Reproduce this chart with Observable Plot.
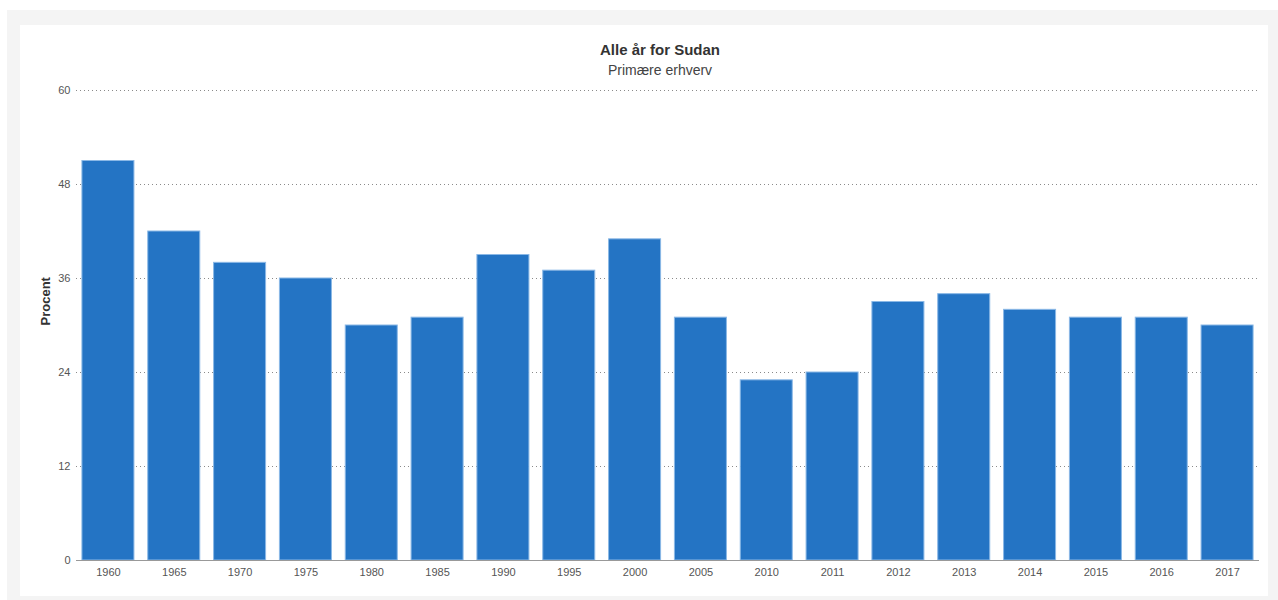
<!DOCTYPE html>
<html>
<head>
<meta charset="utf-8">
<script src="https://cdn.jsdelivr.net/npm/d3@7"></script>
<script src="https://cdn.jsdelivr.net/npm/@observablehq/plot@0.6"></script>
<style>
  html, body { margin: 0; padding: 0; background: #fff; width: 1278px; height: 600px; overflow: hidden; font-family: "Liberation Sans", Arial, Helvetica, sans-serif; }
  #outer { position: absolute; left: 7px; top: 10px; width: 1271px; height: 590px; background: #f4f4f4; }
  #card { position: absolute; left: 20px; top: 25px; width: 1248px; height: 571px; background: #fff; }
  #title { position: absolute; left: 0; width: 1320px; top: 41px; text-align: center; font-weight: bold; font-size: 15px; color: #333; }
  #subtitle { position: absolute; left: 0; width: 1320px; top: 62px; text-align: center; font-size: 14px; color: #444; }
  #chart { position: absolute; left: 20px; top: 25px; }
</style>
</head>
<body>
<div id="outer"></div>
<div id="card"></div>
<div id="chart"></div>
<div id="title">Alle år for Sudan</div>
<div id="subtitle">Primære erhverv</div>
<script>
const years = ["1960","1965","1970","1975","1980","1985","1990","1995","2000","2005","2010","2011","2012","2013","2014","2015","2016","2017"];
const values = [51,42,38,36,30,31,39,37,41,31,23,24,33,34,32,31,31,30];
const yTicks = [0,12,24,36,48,60];
const data = years.map((y, i) => ({year: y, value: values[i]}));

const chart = Plot.plot({
  width: 1248,
  height: 571,
  marginLeft: 56,
  marginRight: 9,
  marginTop: 65,
  marginBottom: 36,
  style: {fontFamily: "'Liberation Sans', Arial, Helvetica, sans-serif", fontSize: "11px", color: "#555", background: "transparent"},
  x: {domain: years, paddingInner: 0.21, paddingOuter: 0.09, round: false, label: null},
  y: {domain: [0, 60], ticks: yTicks, label: null},
  marks: [
    Plot.gridY(yTicks.filter(t => t > 0), {stroke: "#8a8a8a", strokeOpacity: 1, strokeDasharray: "1,3"}),
    Plot.barY(data, {x: "year", y: "value", fill: "#2474c4", stroke: "#8ab8e6", strokeWidth: 1}),
    Plot.ruleY([0], {stroke: "#999", strokeWidth: 1.2}),
    Plot.axisX({tickSize: 0, tickPadding: 8, fontSize: 11, fill: "#555"}),
    Plot.axisY({ticks: yTicks, tickSize: 0, tickPadding: 6, fontSize: 11, fill: "#555"}),
    Plot.text(["Procent"], {frameAnchor: "left", dx: -31, rotate: -90, fontWeight: "bold", fontSize: 13, fill: "#333"})
  ]
});
document.getElementById("chart").appendChild(chart);
</script>
</body>
</html>
